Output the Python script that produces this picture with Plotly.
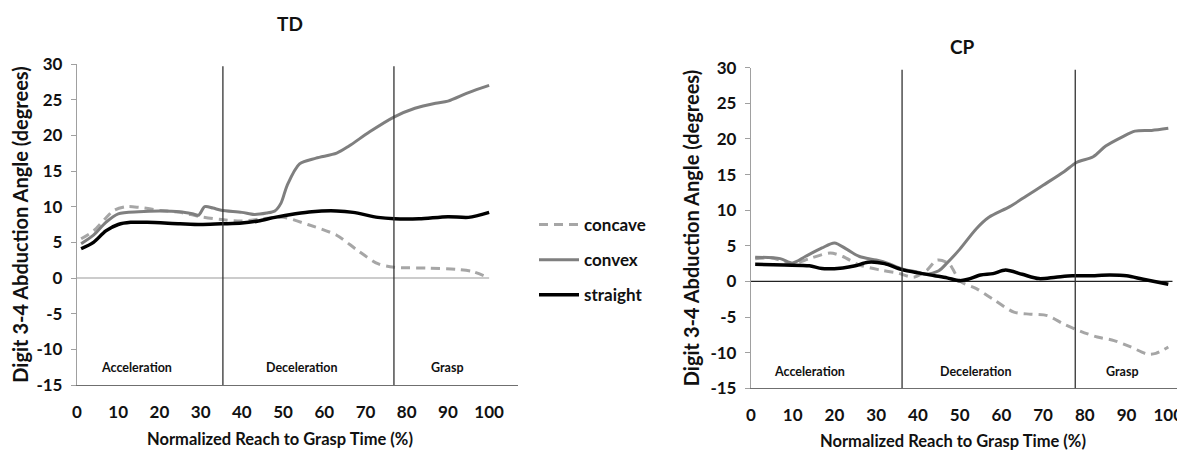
import plotly.graph_objects as go

# ---------------- data ----------------
series_names = ["concave", "convex", "straight"]

td_concave_x = [1, 4, 7, 9, 12, 15, 20, 25, 30, 35, 40, 45, 50, 56, 63, 68, 73, 77, 85, 92, 96, 100]
td_concave_y = [5.5, 6.6, 8.4, 9.5, 10.0, 9.9, 9.5, 9.2, 8.6, 8.2, 8.0, 8.3, 8.5, 7.5, 6.0, 3.9, 2.0, 1.5, 1.4, 1.2, 0.9, 0.0]

td_convex_x = [1, 4, 7, 10, 15, 20, 25, 28, 29.5, 31, 33, 35, 40, 43, 46, 48, 49.5, 51, 54, 58, 63, 66, 71, 77, 82, 87, 90, 95, 100]
td_convex_y = [4.8, 6.0, 7.8, 9.0, 9.3, 9.4, 9.3, 9.0, 8.8, 10.0, 9.8, 9.5, 9.2, 8.9, 9.1, 9.4, 10.5, 13.0, 16.0, 16.8, 17.5, 18.5, 20.5, 22.6, 23.8, 24.5, 24.8, 26.0, 27.0]

td_straight_x = [1, 4, 7, 10, 13, 17, 25, 30, 35, 40, 44, 48, 53, 57, 63, 67, 73, 77, 83, 90, 95, 100]
td_straight_y = [4.1, 5.0, 6.6, 7.5, 7.8, 7.8, 7.6, 7.5, 7.6, 7.7, 8.0, 8.5, 9.0, 9.3, 9.4, 9.2, 8.5, 8.3, 8.3, 8.6, 8.5, 9.2]

cp_concave_x = [1, 5, 10, 14, 19, 22, 26, 31, 35, 39, 42, 44.6, 47.4, 50.2, 54, 58, 63, 67, 71, 75, 79, 83, 87, 91, 95, 97, 100]
cp_concave_y = [3.2, 3.3, 2.5, 3.2, 4.0, 3.5, 2.3, 1.6, 1.2, 0.6, 1.5, 3.0, 2.5, 0.0, -1.0, -2.5, -4.3, -4.6, -4.8, -6.0, -7.0, -7.8, -8.3, -9.2, -10.2, -10.1, -9.2]

cp_convex_x = [1, 7, 10, 13, 17, 20, 23, 26, 30, 33, 36, 40, 42, 45, 47, 50, 54, 57, 62, 66, 70, 75, 78, 82, 85, 89, 92, 96, 100]
cp_convex_y = [3.4, 3.2, 2.6, 3.5, 4.7, 5.4, 4.5, 3.5, 3.0, 2.5, 1.8, 1.3, 1.0, 1.5, 2.6, 4.5, 7.4, 9.0, 10.5, 12.0, 13.5, 15.4, 16.7, 17.5, 19.0, 20.3, 21.1, 21.2, 21.5]

cp_straight_x = [1, 8, 14, 17, 22, 25, 28, 32, 36, 40, 44, 47, 50, 52, 55, 58, 61, 65, 69, 73, 77, 81, 86, 90, 94, 100]
cp_straight_y = [2.4, 2.3, 2.2, 1.8, 1.9, 2.2, 2.7, 2.5, 1.7, 1.2, 0.8, 0.5, 0.1, 0.3, 0.9, 1.1, 1.6, 1.0, 0.4, 0.6, 0.8, 0.8, 0.9, 0.8, 0.3, -0.4]

phase_names = ["Acceleration", "Deceleration", "Grasp"]
td_phase_bounds = [35.4, 76.9]
cp_phase_bounds = [36.2, 77.7]
td_phase_label_x = [14.5, 54.5, 90]
cp_phase_label_x = [13.9, 54, 89]
phase_label_y = -12.6

x_tick_vals = [0, 10, 20, 30, 40, 50, 60, 70, 80, 90, 100]
y_tick_vals = [-15, -10, -5, 0, 5, 10, 15, 20, 25, 30]

# ---------------- styling ----------------
FONT = "Lato"
styles = {
    "concave": dict(color="#a6a6a6", width=3, dash="9px,6px"),
    "convex": dict(color="#7f7f7f", width=3, dash="solid"),
    "straight": dict(color="#000000", width=3.5, dash="solid"),
}

# The page body has an 8px margin, so the figure is laid out in screen
# pixels and shifted by that offset.
OFF = 8
SW, SH = 1185, 452
W, H = SW - OFF, SH - OFF


def px(x):  # screen x -> paper
    return (x - OFF) / W


def py(y):  # screen y -> paper
    return 1 - (y - OFF) / H


fig = go.Figure()

td = {"concave": (td_concave_x, td_concave_y),
      "convex": (td_convex_x, td_convex_y),
      "straight": (td_straight_x, td_straight_y)}
cp = {"concave": (cp_concave_x, cp_concave_y),
      "convex": (cp_convex_x, cp_convex_y),
      "straight": (cp_straight_x, cp_straight_y)}

for name in series_names:
    xs, ys = td[name]
    fig.add_trace(go.Scatter(x=xs, y=ys, mode="lines", name=name, legendgroup=name,
                             line=dict(shape="spline", smoothing=0.8, **styles[name]),
                             xaxis="x", yaxis="y", showlegend=True))
for name in series_names:
    xs, ys = cp[name]
    fig.add_trace(go.Scatter(x=xs, y=ys, mode="lines", name=name, legendgroup=name,
                             line=dict(shape="spline", smoothing=0.8, **styles[name]),
                             xaxis="x2", yaxis="y2", showlegend=False))

shapes = []
shapes.append(dict(type="line", xref="x", yref="y", x0=0, x1=100, y0=0, y1=0,
                   line=dict(color="#9a9a9a", width=1.2), layer="below"))
shapes.append(dict(type="line", xref="x2", yref="y2", x0=0, x1=101, y0=0, y1=0,
                   line=dict(color="#222222", width=1.2), layer="below"))
for b in td_phase_bounds:
    shapes.append(dict(type="line", xref="x", yref="y", x0=b, x1=b, y0=-15, y1=29.7,
                       line=dict(color="#333333", width=1.3)))
for b in cp_phase_bounds:
    shapes.append(dict(type="line", xref="x2", yref="y2", x0=b, x1=b, y0=-15, y1=29.7,
                       line=dict(color="#333333", width=1.3)))

annotations = []
for nm, lx in zip(phase_names, td_phase_label_x):
    annotations.append(dict(x=lx, y=phase_label_y, xref="x", yref="y", text=nm, showarrow=False,
                            font=dict(family=FONT, size=12.5, color="#111", weight=700)))
for nm, lx in zip(phase_names, cp_phase_label_x):
    annotations.append(dict(x=lx, y=phase_label_y, xref="x2", yref="y2", text=nm, showarrow=False,
                            font=dict(family=FONT, size=12.5, color="#111", weight=700)))

annotations.append(dict(x=px(290), y=py(24), xref="paper", yref="paper", text="TD", showarrow=False,
                        xanchor="center", yanchor="middle",
                        font=dict(family=FONT, size=19, color="#111", weight=700)))
annotations.append(dict(x=px(962), y=py(46), xref="paper", yref="paper", text="CP", showarrow=False,
                        xanchor="center", yanchor="middle",
                        font=dict(family=FONT, size=19, color="#111", weight=700)))
annotations.append(dict(x=px(280), y=py(439), xref="paper", yref="paper",
                        text="Normalized Reach to Grasp Time (%)", showarrow=False,
                        xanchor="center", yanchor="middle",
                        font=dict(family=FONT, size=16.5, color="#111", weight=700)))
annotations.append(dict(x=px(953), y=py(441), xref="paper", yref="paper",
                        text="Normalized Reach to Grasp Time (%)", showarrow=False,
                        xanchor="center", yanchor="middle",
                        font=dict(family=FONT, size=16.5, color="#111", weight=700)))

axis_font = dict(family=FONT, size=17, color="#111", weight=700)
ytitle_font = dict(family=FONT, size=20, color="#111", weight=700)


def xaxis(domain, rng, anchor):
    return dict(domain=domain, range=rng, tickvals=x_tick_vals, ticktext=[str(v) for v in x_tick_vals],
                showgrid=False, zeroline=False, showline=True, linecolor="#6f6f6f", linewidth=1.3,
                ticks="", tickfont=axis_font, ticklabelstandoff=11, fixedrange=True,
                automargin=False, anchor=anchor)


def yaxis(domain, anchor):
    return dict(domain=domain, range=[-15, 30], tickvals=y_tick_vals, ticktext=[str(v) for v in y_tick_vals],
                showgrid=False, zeroline=False, showline=True, linecolor="#a0a0a0", linewidth=1.3,
                ticks="outside", ticklen=5, tickcolor="#a0a0a0", tickfont=axis_font,
                ticklabelstandoff=5,
                title=dict(text="Digit 3-4 Abduction Angle (degrees)", font=ytitle_font, standoff=5),
                anchor=anchor, automargin=False, fixedrange=True)


fig.update_layout(
    width=W, height=H,
    margin=dict(l=0, r=0, t=0, b=0),
    paper_bgcolor="white", plot_bgcolor="white",
    xaxis=xaxis([px(77), px(518)], [0, 107], "y"),
    yaxis=yaxis([py(385), py(64)], "x"),
    xaxis2=xaxis([px(751), 1.0], [0, 104], "y2"),
    yaxis2=yaxis([py(388.3), py(67.7)], "x2"),
    shapes=shapes,
    annotations=annotations,
    showlegend=True,
    legend=dict(x=px(534), y=py(207), xanchor="left", yanchor="top",
                bgcolor="rgba(0,0,0,0)", font=dict(family=FONT, size=17, color="#111", weight=700),
                tracegroupgap=10, itemwidth=40),
)

fig.write_html("out.html")
